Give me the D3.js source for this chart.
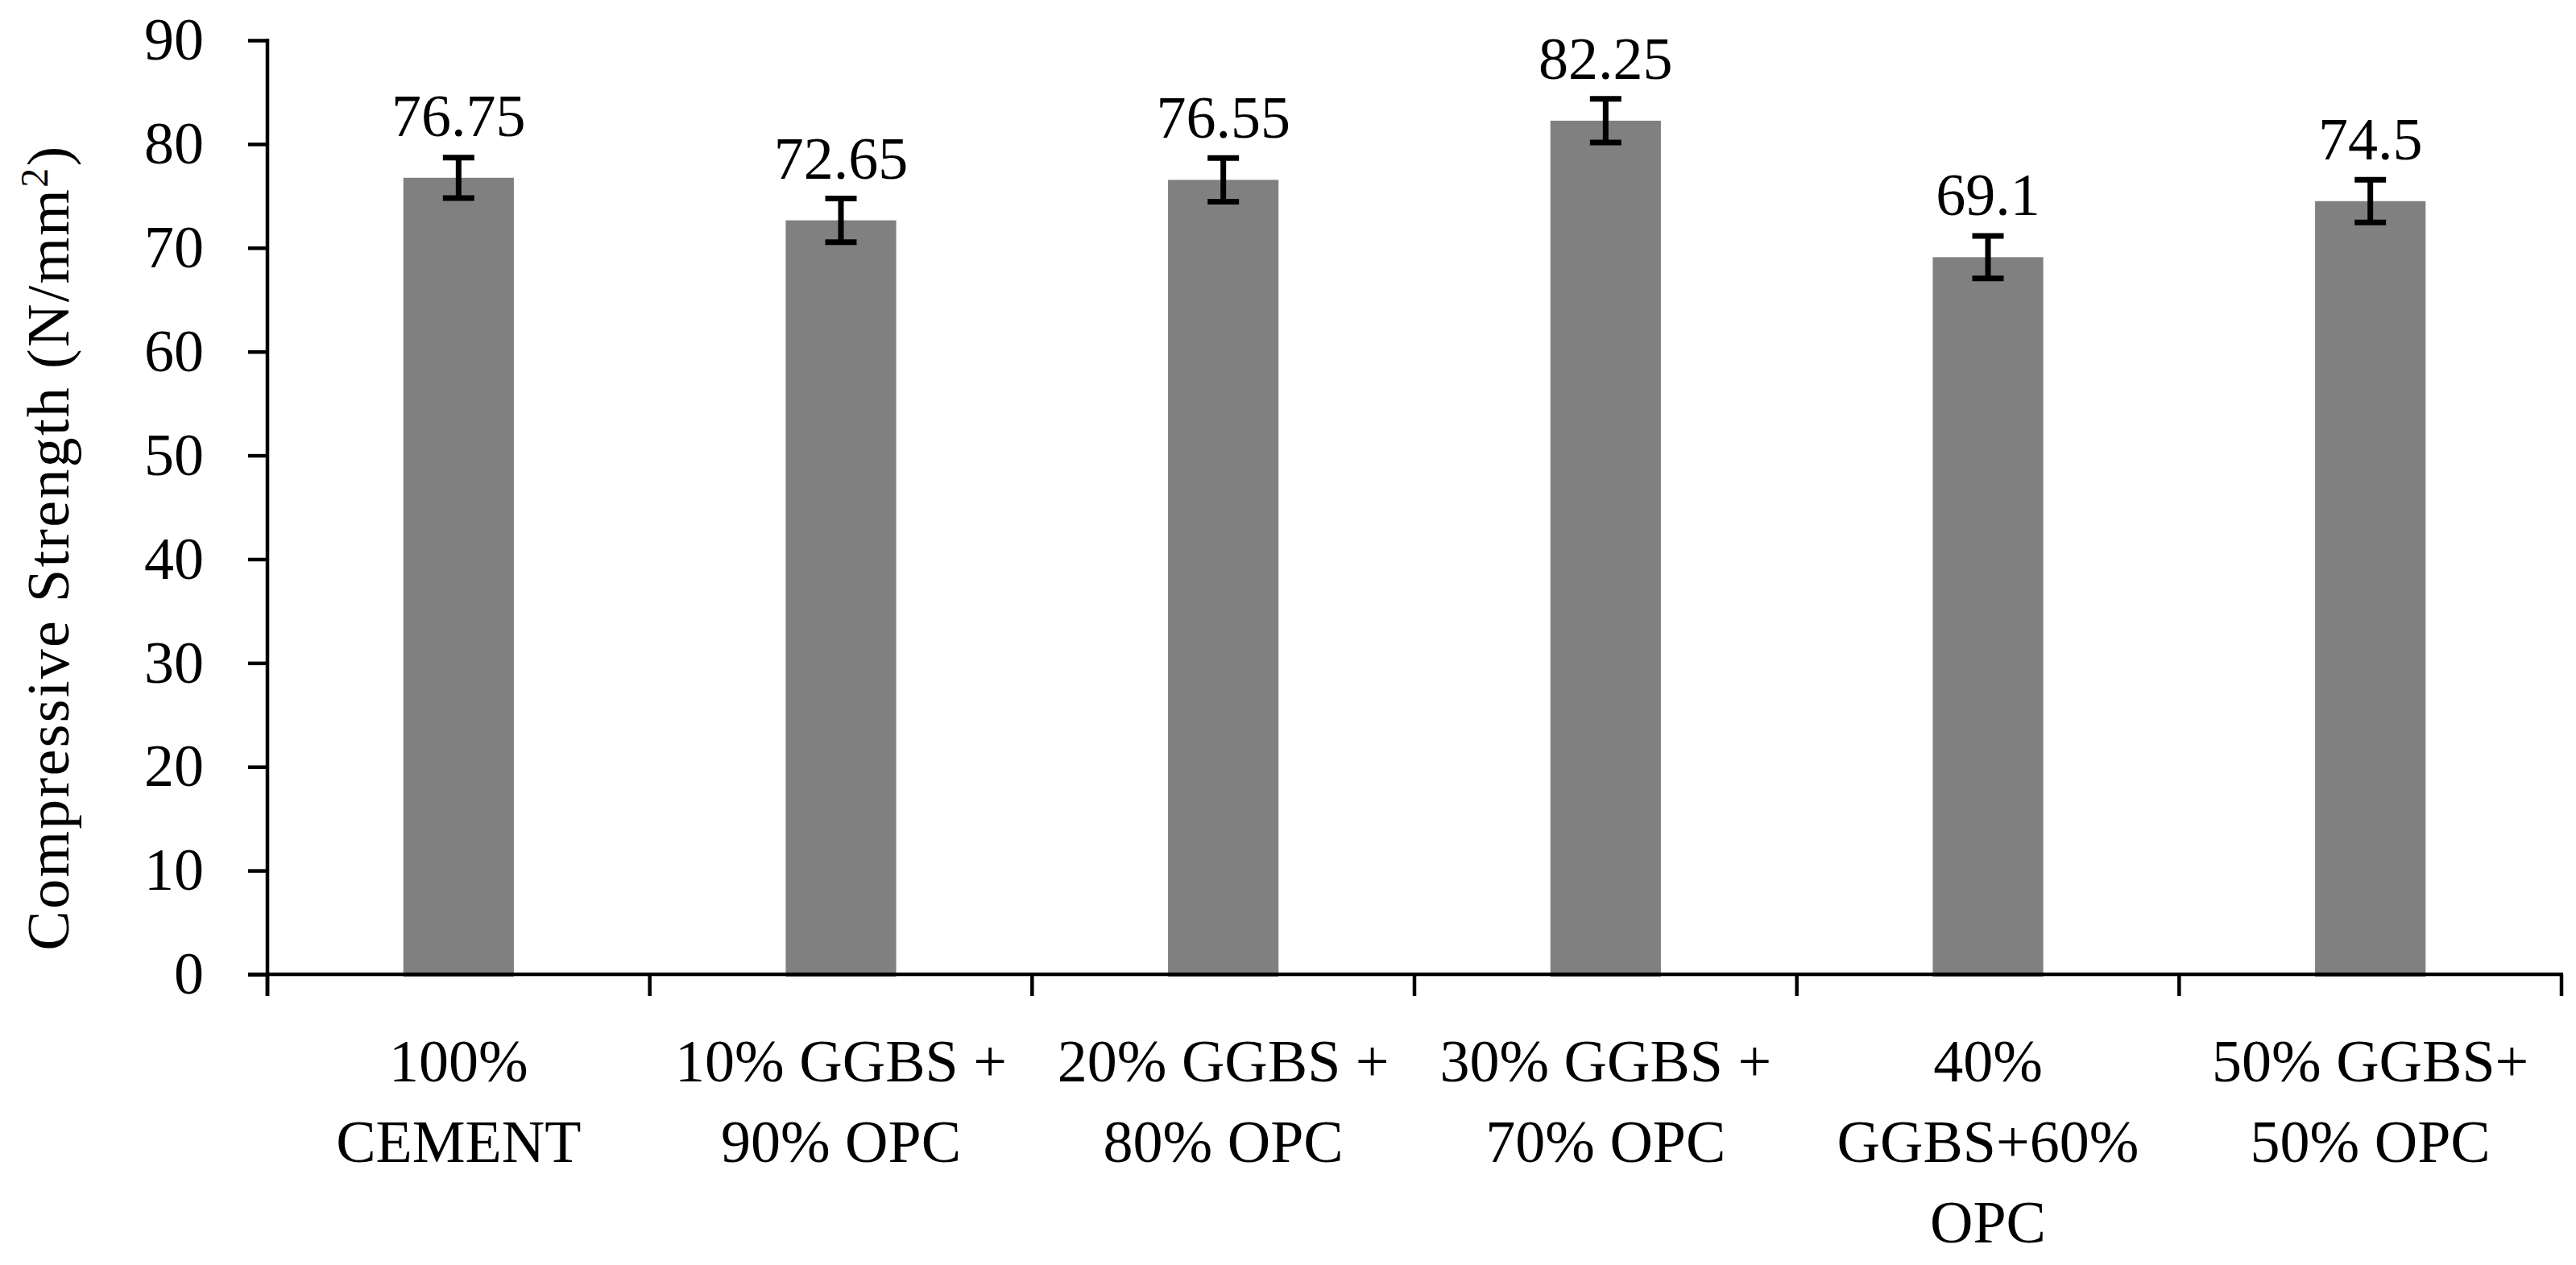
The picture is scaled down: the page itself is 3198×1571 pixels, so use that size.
<!DOCTYPE html>
<html>
<head>
<meta charset="utf-8">
<script src="https://cdn.jsdelivr.net/npm/d3@7"></script>
<style>
  html, body { margin: 0; padding: 0; background: #ffffff; }
  svg { display: block; }
  text { font-family: "Liberation Serif", "DejaVu Serif", serif; fill: #000; }
</style>
</head>
<body>
<svg id="chart" width="3198" height="1571"></svg>
<script>
// ---- data ----
const categories = [
  "100%\nCEMENT",
  "10% GGBS +\n90% OPC",
  "20% GGBS +\n80% OPC",
  "30% GGBS +\n70% OPC",
  "40%\nGGBS+60%\nOPC",
  "50% GGBS+\n50% OPC"
];
const strengths = [76.75, 72.65, 76.55, 82.25, 69.1, 74.5];
const errors = [1.95, 2.1, 2.1, 2.1, 2.05, 2.05];
const valueLabels = ["76.75", "72.65", "76.55", "82.25", "69.1", "74.5"];
const yTicks = [0, 10, 20, 30, 40, 50, 60, 70, 80, 90];
const yTitleParts = ["Compressive Strength (N/mm", "2", ")"];

// ---- layout ----
const M = { left: 332, right: 3180, top: 50, bottom: 1210 };
const fontSize = 74;

const svg = d3.select("#chart");

const x = d3.scaleBand().domain(categories).range([M.left, M.right]).padding(0);
const y = d3.scaleLinear().domain([0, 90]).range([M.bottom, M.top]);
const barW = x.bandwidth() * 0.289;
const cxOf = i => x(categories[i]) + x.bandwidth() / 2;

// bars
svg.append("g").selectAll("rect")
  .data(strengths)
  .join("rect")
  .attr("x", (d, i) => cxOf(i) - barW / 2)
  .attr("y", d => y(d))
  .attr("width", barW)
  .attr("height", d => y(0) - y(d) + 3)
  .attr("fill", "#808080");

// y axis
const yAxis = d3.axisLeft(y).tickValues(yTicks).tickSize(24).tickPadding(55).tickFormat(d3.format("d"));
const gy = svg.append("g").attr("transform", `translate(${M.left},0)`).call(yAxis);
gy.select(".domain").remove();
gy.selectAll(".tick line").attr("stroke", "#000").attr("stroke-width", 4.5);
gy.selectAll(".tick text")
  .attr("font-size", fontSize)
  .attr("font-family", "Liberation Serif, serif")
  .attr("fill", "#000")
  .attr("dy", "0.32em");
gy.append("line")
  .attr("x1", 0).attr("x2", 0)
  .attr("y1", M.top - 2).attr("y2", M.bottom + 27)
  .attr("stroke", "#000").attr("stroke-width", 4.5);

// x axis
const boundaries = categories.map(c => x(c)).concat([M.right]);
const gx = svg.append("g");
gx.append("line")
  .attr("x1", M.left - 24).attr("x2", M.right + 2)
  .attr("y1", y(0)).attr("y2", y(0))
  .attr("stroke", "#000").attr("stroke-width", 4.5);
gx.selectAll("line.xt")
  .data(boundaries)
  .join("line")
  .attr("class", "xt")
  .attr("x1", d => d).attr("x2", d => d)
  .attr("y1", y(0)).attr("y2", y(0) + 27)
  .attr("stroke", "#000").attr("stroke-width", 4.5);

// category labels
const lineH = 100;
gx.selectAll("text.cat")
  .data(categories)
  .join("text")
  .attr("class", "cat")
  .attr("text-anchor", "middle")
  .attr("font-size", fontSize)
  .attr("x", d => x(d) + x.bandwidth() / 2)
  .attr("y", y(0) + 133)
  .each(function (d) {
    const t = d3.select(this);
    d.split("\n").forEach((line, k) => {
      t.append("tspan")
        .attr("x", x(d) + x.bandwidth() / 2)
        .attr("dy", k === 0 ? 0 : lineH)
        .text(line);
    });
  });

// error bars
const capW = 39;
const eg = svg.append("g").attr("stroke", "#000").attr("stroke-width", 7);
strengths.forEach((v, i) => {
  const cx = cxOf(i);
  const y1 = y(v + errors[i]), y2 = y(v - errors[i]);
  eg.append("line").attr("x1", cx).attr("x2", cx).attr("y1", y1).attr("y2", y2);
  eg.append("line").attr("x1", cx - capW / 2).attr("x2", cx + capW / 2).attr("y1", y1).attr("y2", y1);
  eg.append("line").attr("x1", cx - capW / 2).attr("x2", cx + capW / 2).attr("y1", y2).attr("y2", y2);
});

// value labels
svg.append("g").selectAll("text")
  .data(strengths)
  .join("text")
  .attr("text-anchor", "middle")
  .attr("font-size", fontSize)
  .attr("x", (d, i) => cxOf(i))
  .attr("y", d => y(d) - 52)
  .text((d, i) => valueLabels[i]);

// y title
const title = svg.append("text")
  .attr("transform", `translate(85, 680) rotate(-90)`)
  .attr("text-anchor", "middle")
  .attr("font-size", fontSize)
  .attr("letter-spacing", 2.3);
title.append("tspan").text(yTitleParts[0]);
title.append("tspan").attr("font-size", 48).attr("dy", -26).text(yTitleParts[1]);
title.append("tspan").attr("dy", 26).text(yTitleParts[2]);
</script>
</body>
</html>
